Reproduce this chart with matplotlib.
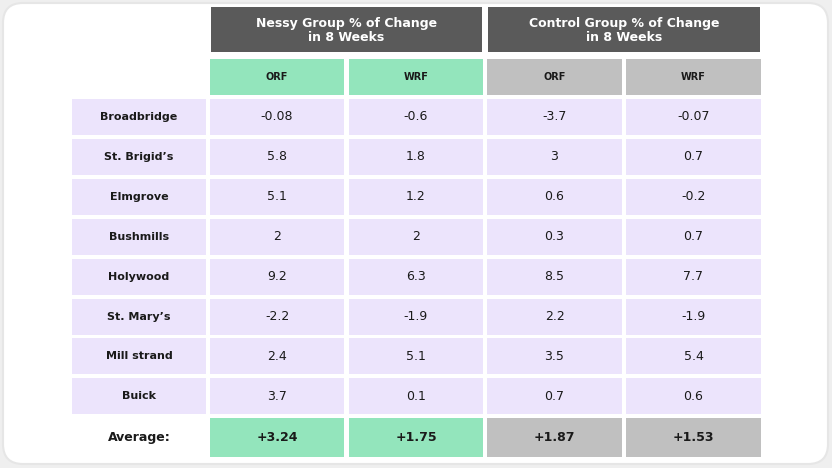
import matplotlib.pyplot as plt
from matplotlib.patches import Rectangle, FancyBboxPatch

# table data
schools = ["Broadbridge", "St. Brigid\u2019s", "Elmgrove", "Bushmills",
           "Holywood", "St. Mary\u2019s", "Mill strand", "Buick"]
nessy_orf = ["-0.08", "5.8", "5.1", "2", "9.2", "-2.2", "2.4", "3.7"]
nessy_wrf = ["-0.6", "1.8", "1.2", "2", "6.3", "-1.9", "5.1", "0.1"]
control_orf = ["-3.7", "3", "0.6", "0.3", "8.5", "2.2", "3.5", "0.7"]
control_wrf = ["-0.07", "0.7", "-0.2", "0.7", "7.7", "-1.9", "5.4", "0.6"]
group_titles = ["Nessy Group % of Change\nin 8 Weeks",
                "Control Group % of Change\nin 8 Weeks"]
sub_headers = ["ORF", "WRF", "ORF", "WRF"]
averages = ["+3.24", "+1.75", "+1.87", "+1.53"]

W, H = 832, 468
dark = "#5a5a5a"
green = "#93e5bc"
grey = "#c0c0c0"
lav = "#ece4fc"
txt = "#1a1a1a"
font = "DejaVu Sans"

fig = plt.figure(figsize=(W / 100, H / 100), dpi=100)
fig.patch.set_facecolor("#efefef")
ax = fig.add_axes([0, 0, 1, 1])
ax.set_xlim(0, W)
ax.set_ylim(H, 0)
ax.axis("off")

# card
ax.add_patch(FancyBboxPatch((3, 3), 825, 461, boxstyle="round,pad=0,rounding_size=20",
                            fc="white", ec="#e6e6e6", lw=1.5))

# columns (x0, x1)
label_col = (72, 206)
cols = [(210, 344), (349, 483), (487, 622), (626, 761)]
row_top = 99
row_h = 36
row_pitch = 39.9

def cell(x0, x1, y0, y1, color):
    ax.add_patch(Rectangle((x0, y0), x1 - x0, y1 - y0, fc=color, ec="none"))

# group headers
for i, title in enumerate(group_titles):
    x0 = cols[2 * i][0]
    x1 = cols[2 * i + 1][1]
    cell(x0 + 1, x1 - 1, 7, 52, dark)
    ax.text((x0 + x1) / 2, 30.5, title, ha="center", va="center", color="white",
            fontsize=9, fontweight="bold", family=font, linespacing=1.15)

# sub headers
for i, name in enumerate(sub_headers):
    x0, x1 = cols[i]
    cell(x0, x1, 59, 95, green if i < 2 else grey)
    ax.text((x0 + x1) / 2, 77.5, name, ha="center", va="center", color=txt,
            fontsize=7, fontweight="bold", family=font)

# data rows
columns = [nessy_orf, nessy_wrf, control_orf, control_wrf]
for r, school in enumerate(schools):
    y0 = row_top + r * row_pitch
    y1 = y0 + row_h
    yc = (y0 + y1) / 2
    cell(label_col[0], label_col[1], y0, y1, lav)
    ax.text(sum(label_col) / 2, yc, school, ha="center", va="center", color=txt,
            fontsize=8, fontweight="bold", family=font)
    for c, vals in enumerate(columns):
        x0, x1 = cols[c]
        cell(x0, x1, y0, y1, lav)
        ax.text((x0 + x1) / 2, yc, vals[r], ha="center", va="center", color=txt,
                fontsize=9, family=font)

# average row
y0, y1 = 418, 457
yc = (y0 + y1) / 2
ax.text(sum(label_col) / 2, yc, "Average:", ha="center", va="center", color=txt,
        fontsize=9, fontweight="bold", family=font)
for c, val in enumerate(averages):
    x0, x1 = cols[c]
    cell(x0, x1, y0, y1, green if c < 2 else grey)
    ax.text((x0 + x1) / 2, yc, val, ha="center", va="center", color=txt,
            fontsize=9, fontweight="bold", family=font)

fig.savefig("out.png", dpi=100, facecolor=fig.get_facecolor())
